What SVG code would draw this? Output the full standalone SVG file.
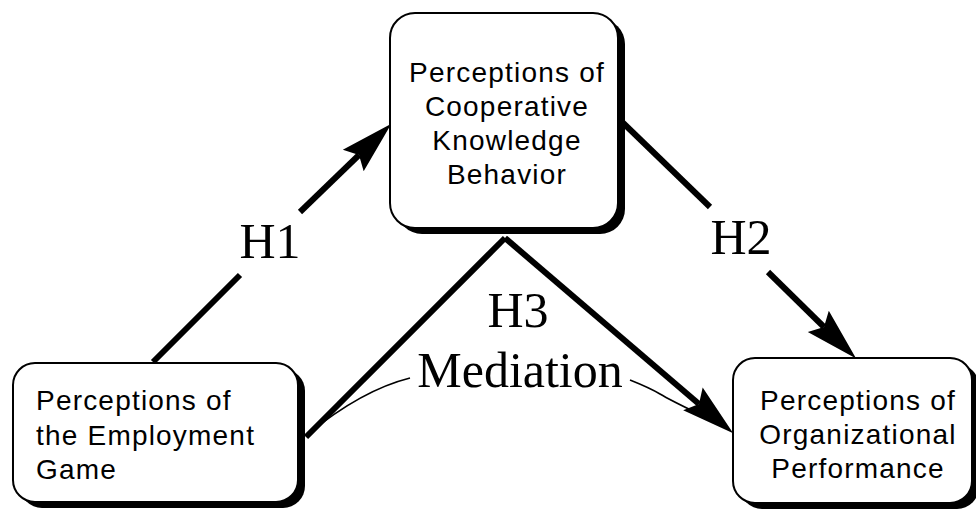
<svg xmlns="http://www.w3.org/2000/svg" width="976" height="510" viewBox="0 0 976 510">
<style>
.box{fill:#fff;stroke:#000;stroke-width:2}
.shadow{fill:#000;stroke:none}
.nt{font-family:"Liberation Sans",Arial,sans-serif;font-size:28px;letter-spacing:1.2px;fill:#000}
.lbl{font-family:"Liberation Serif","Times New Roman",serif;font-size:50px;fill:#000;text-anchor:middle}
.edge{stroke:#000;stroke-width:6;fill:none}
.call{stroke:#000;stroke-width:1.6;fill:none}
</style>
<defs>
<marker id="arr" markerUnits="userSpaceOnUse" markerWidth="60" markerHeight="40" refX="8" refY="0" orient="auto" style="overflow:visible">
<path d="M0,-15 L53,0 L0,15 L8,0 Z" fill="#000"/>
</marker>
</defs>
<g id="connectors">
<line class="edge" x1="153" y1="362" x2="240" y2="275"/>
<line class="edge" x1="300" y1="212" x2="359" y2="155" marker-end="url(#arr)"/>
<line class="edge" x1="618" y1="118" x2="710" y2="207"/>
<line class="edge" x1="768" y1="272" x2="824" y2="327" marker-end="url(#arr)"/>
<line class="edge" x1="505" y1="238" x2="306" y2="437"/>
<line class="edge" x1="505" y1="238" x2="699" y2="404" marker-end="url(#arr)"/>
<path class="call" d="M410,378 Q362,390 308,434"/>
<path class="call" d="M630,380 Q650,388 660,394 T697,413"/>
<text class="lbl" x="270" y="258">H1</text>
<text class="lbl" x="741" y="254">H2</text>
<text class="lbl" x="518" y="327">H3</text>
<text class="lbl" x="520" y="387">Mediation</text>
</g>
<g id="node-cooperative">
<rect class="shadow" x="397" y="19" width="228" height="215" rx="25"/>
<rect class="box" x="390" y="13" width="228" height="215" rx="25"/>
<text class="nt" text-anchor="middle" x="507" y="82">Perceptions of</text>
<text class="nt" text-anchor="middle" x="507" y="116">Cooperative</text>
<text class="nt" text-anchor="middle" x="507" y="150">Knowledge</text>
<text class="nt" text-anchor="middle" x="507" y="184">Behavior</text>
</g>
<g id="node-employment">
<rect class="shadow" x="20" y="369" width="285" height="139" rx="22"/>
<rect class="box" x="13" y="363" width="285" height="139" rx="22"/>
<text class="nt" x="36" y="410">Perceptions of</text>
<text class="nt" x="36" y="445">the Employment</text>
<text class="nt" x="36" y="479">Game</text>
</g>
<g id="node-performance">
<rect class="shadow" x="740" y="364" width="239" height="145" rx="22"/>
<rect class="box" x="733" y="358" width="239" height="145" rx="22"/>
<text class="nt" text-anchor="middle" x="858" y="410">Perceptions of</text>
<text class="nt" text-anchor="middle" x="858" y="444">Organizational</text>
<text class="nt" text-anchor="middle" x="858" y="478">Performance</text>
</g>
</svg>
